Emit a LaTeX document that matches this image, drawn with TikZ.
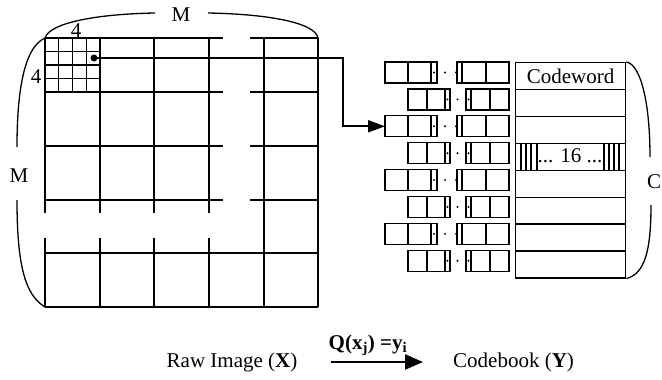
\documentclass[tikz,border=0pt]{standalone}
\usepackage{fontspec}
\setmainfont{Liberation Serif}
\usetikzlibrary{arrows.meta}
\tikzset{
	ln/.style={line width=1.3pt},
	lbl/.style={inner sep=0pt, font=\fontsize{21}{24}\selectfont},
	cwrow/.style={draw, line width=1.3pt, anchor=north west, minimum width=110pt, minimum height=26.9pt, inner sep=0pt},
	ptr/.style={line width=1.9pt, -{Triangle[length=17pt,width=12pt]}},
	qarrow/.style={line width=2.4pt, -{Triangle[length=18pt,width=15pt]}},
}
\begin{document}
\begin{tikzpicture}[x=1pt, y=-1pt]
	\useasboundingbox (0,0) rectangle (662,380);
		% raw image
		\foreach \x in {45,100,154,209}{
		\draw[ln] (\x,38) -- (\x,213);
		\draw[ln] (\x,238) -- (\x,307);
		};
		\foreach \x in {264,318}
		\draw[ln] (\x,38) -- (\x,307);
		\foreach \y in {38,92,146,200}{
		\draw[ln] (45,\y) -- (223,\y);
		\draw[ln] (250,\y) -- (318,\y);
		};
		\foreach \y in {253,307}
		\draw[ln] (45,\y) -- (318,\y);
		\foreach \k in {1,2,3}{
		\draw[ln] (45+13.75*\k,38) -- (45+13.75*\k,92);
		\draw[ln] (45,38+13.5*\k) -- (100,38+13.5*\k);
		};

		\draw[ln] (45,38) .. controls (50,22) and (100,14) .. (155,13);
		\draw[ln] (208,13) .. controls (265,14) and (315,22) .. (318,38);
		\node[lbl] (mtop) at (181,15) {M};
		\draw[ln] (45,38) .. controls (22,48) and (17,100) .. (17,147);
		\draw[ln] (17,200) .. controls (17,265) and (25,295) .. (45,307);
		\node[lbl] (mleft) at (19,176) {M};
		\node[lbl] (fourtop) at (76,31) {4};
		\node[lbl] (fourleft) at (36,77) {4};

		% codebook
		\foreach \i in {0,...,7}
		\node[cwrow] (cw\i) at (515,62+26.9*\i) {};
		\node[lbl] (cwtext) at (cw0) {Codeword};
		\node[lbl] (sixteen) at (570,156) {... 16 ...};
		\foreach \x in {521,526,531,537,604,609,614,619}
		\draw[ln] (\x,142.7) -- (\x,169.6);
		\draw[ln] (cw0.north east) .. controls (640,64) and (650,100) .. (650,157);
		\draw[ln] (651,205) .. controls (651,250) and (645,274) .. (cw7.south east);
		\node[lbl] (csize) at (654,182) {C};

		\foreach \i in {0,2,4,6}{
		\pgfmathsetmacro\yt{62+26.9*\i}
		\pgfmathsetmacro\yb{\yt+21}
		\pgfmathsetmacro\ym{\yt+10.5}
		\draw[ln] (385,\yt) rectangle (437,\yb) (408,\yt) -- (408,\yb) (431,\yt) -- (431,\yb);
		\draw[ln] (457,\yt) rectangle (509,\yb) (462,\yt) -- (462,\yb) (486,\yt) -- (486,\yb);
		\foreach \d in {434,445,456}
		\fill (\d,\ym) circle (1.1pt);
		\coordinate (b\i) at (385,\ym);
		};
		\foreach \i in {1,3,5,7}{
		\pgfmathsetmacro\yt{62+26.9*\i}
		\pgfmathsetmacro\yb{\yt+21}
		\pgfmathsetmacro\ym{\yt+10.5}
		\draw[ln] (408,\yt) rectangle (450,\yb) (427,\yt) -- (427,\yb) (445,\yt) -- (445,\yb);
		\draw[ln] (466,\yt) rectangle (509,\yb) (471,\yt) -- (471,\yb) (490,\yt) -- (490,\yb);
		\foreach \d in {447.5,457.5,468.5}
		\fill (\d,\ym) circle (1.1pt);
		\coordinate (b\i) at (408,\ym);
		};

		\node[circle, fill, inner sep=0pt, minimum size=7pt] (dot) at (94,58) {};
		\coordinate (turn) at (343,58);
		\draw[ptr] (dot.center) -- (turn) |- (b2);

		% bottom line
		\node[lbl] (raw) at (232,362) {Raw Image (\textbf{X})};
		\node[lbl, anchor=west] (cbk) at (453,362) {Codebook (\textbf{Y})};
		\node[lbl] (qmap) at (368,345) {\textbf{Q(x\textsubscript{j}) =y\textsubscript{i}}};
		\draw[qarrow, shorten <=33pt, shorten >=30pt] (raw) -- (cbk);
	\end{tikzpicture}
\end{document}
